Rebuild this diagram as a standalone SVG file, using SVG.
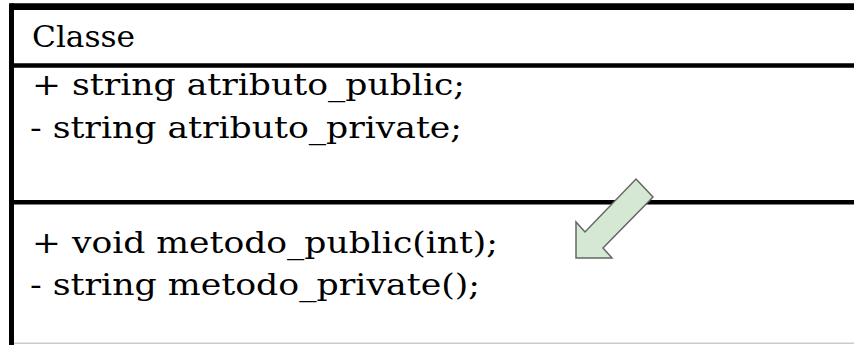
<svg xmlns="http://www.w3.org/2000/svg" width="854" height="345" viewBox="0 0 854 345">
<style>
.t{font-family:"DejaVu Serif","Liberation Serif",serif;font-size:29.5px;fill:#000}
.ln{stroke:#000;fill:none}
</style>
<rect width="854" height="345" fill="#fff"/>
<g id="classe">
<line class="ln" x1="11.5" y1="6.7" x2="854" y2="6.7" stroke-width="6.7"/>
<line class="ln" x1="11.5" y1="3.3" x2="11.5" y2="345" stroke-width="5"/>
<line class="ln" x1="9" y1="65.5" x2="854" y2="65.5" stroke-width="4.4"/>
<line class="ln" x1="9" y1="202.2" x2="854" y2="202.2" stroke-width="4.5"/>
<line x1="14" y1="343.2" x2="854" y2="343.2" stroke="#cccccc" stroke-width="1.5"/>
<text class="t" x="32" y="46.7" textLength="103" lengthAdjust="spacingAndGlyphs">Classe</text>
<text class="t" x="32" y="95" textLength="433" lengthAdjust="spacingAndGlyphs">+ string atributo_public;</text>
<text class="t" x="30" y="138" textLength="432" lengthAdjust="spacingAndGlyphs">- string atributo_private;</text>
<text class="t" x="32" y="253" textLength="466" lengthAdjust="spacingAndGlyphs">+ void metodo_public(int);</text>
<text class="t" x="30" y="295" textLength="450" lengthAdjust="spacingAndGlyphs">- string metodo_private();</text>
</g>
<g id="arrow">
<polygon points="636,179 653,197 603,248 612,258 576,258 576,222 585,232" fill="#d5e8d4" stroke="#666666" stroke-width="1.5" stroke-linejoin="miter"/>
</g>
</svg>
